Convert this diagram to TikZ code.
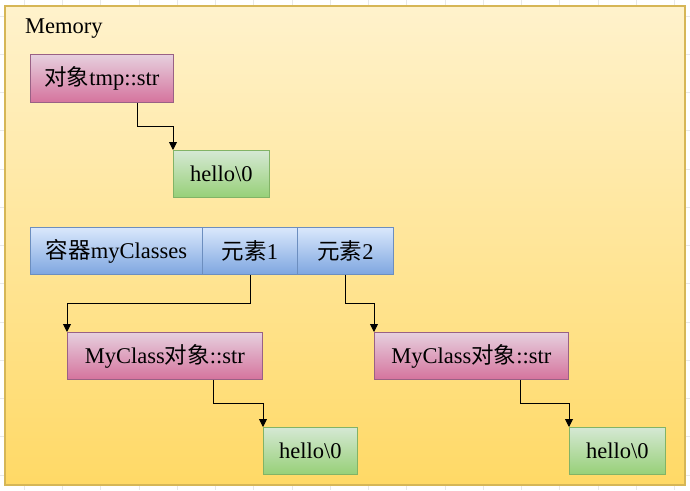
\documentclass[tikz,border=0pt]{standalone}
\usepackage{fontspec}
\setmainfont{Liberation Serif}
\newfontfamily\cjk{Noto Sans CJK SC}
\usetikzlibrary{arrows.meta,calc}
\definecolor{memtop}{HTML}{FFF2CC}
\definecolor{membot}{HTML}{FFD966}
\definecolor{memline}{HTML}{D6B656}
\definecolor{pinktop}{HTML}{E6D0DE}
\definecolor{pinkbot}{HTML}{D5739D}
\definecolor{pinkline}{HTML}{996185}
\definecolor{greentop}{HTML}{D5E8D4}
\definecolor{greenbot}{HTML}{97D077}
\definecolor{greenline}{HTML}{82B366}
\definecolor{bluetop}{HTML}{DAE8FC}
\definecolor{bluebot}{HTML}{7EA6E0}
\definecolor{blueline}{HTML}{6C8EBF}
\definecolor{gridc}{HTML}{E8E8E8}
\tikzset{
  box/.style={rectangle, anchor=north west, inner sep=0pt, line width=0.9pt,
    font=\fontsize{22.5}{26}\selectfont, text=black},
  pinkbox/.style={box, draw=pinkline, top color=pinktop, bottom color=pinkbot},
  greenbox/.style={box, draw=greenline, top color=greentop, bottom color=greenbot,
    minimum width=96pt, minimum height=47pt},
  bluebox/.style={box, draw=blueline, top color=bluetop, bottom color=bluebot,
    minimum height=47pt},
  arr/.style={draw=black, line width=0.9pt, -{Triangle[length=8pt,width=8pt]}}
}
\begin{document}
\begin{tikzpicture}[x=1pt,y=-1pt]
\useasboundingbox (0,0) rectangle (690,490);
\fill[white] (0,0) rectangle (690,490);
% faint grid
\foreach \i in {0,...,17} {
  \draw[gridc, line width=0.6pt] ({24.2+38.25*(\i-0)},0) -- ({24.2+38.25*(\i-0)},490);
}
\foreach \j in {0,...,12} {
  \draw[gridc, line width=0.6pt] (0,{16+38.25*\j}) -- (690,{16+38.25*\j});
}
% memory area
\shade[top color=memtop, bottom color=membot] (5,6) rectangle (685,485);
\draw[memline, line width=1.4pt] (5,6) rectangle (685,485);
\node[anchor=base west, inner sep=0pt, font=\fontsize{22.5}{26}\selectfont] (mem) at (25,33) {Memory};

% nodes
\node[pinkbox, minimum width=143pt, minimum height=48pt] (tmp) at (30,54) {{\cjk 对象}tmp::str};
\node[greenbox] (h1) at (173,150) {hello\textbackslash 0};

\node[bluebox, minimum width=172pt] (cont) at (30,227) {{\cjk 容器}myClasses};
\node[bluebox, minimum width=95pt] (e1) at (202,227) {{\cjk 元素}1};
\node[bluebox, minimum width=96pt] (e2) at (297,227) {{\cjk 元素}2};

\node[pinkbox, minimum width=195pt, minimum height=47pt] (mc1) at (67,332) {MyClass{\cjk 对象}::str};
\node[pinkbox, minimum width=194pt, minimum height=47pt] (mc2) at (374,332) {MyClass{\cjk 对象}::str};

\node[greenbox, minimum width=94pt] (h2) at (263,427) {hello\textbackslash 0};
\node[greenbox] (h3) at (569,427) {hello\textbackslash 0};

% connectors
\coordinate (s1) at ($(tmp.south west)!0.75!(tmp.south east)$);
\draw[arr] (s1) |- ($(s1)!0.5!(h1.north west)$) -| (h1.north west);
\draw[arr] (e1.south) |- ($(e1.south)!0.5!(mc1.north west)$) -| (mc1.north west);
\draw[arr] (e2.south) |- ($(e2.south)!0.5!(mc2.north west)$) -| (mc2.north west);
\coordinate (s2) at ($(mc1.south west)!0.75!(mc1.south east)$);
\draw[arr] (s2) |- ($(s2)!0.5!(h2.north west)$) -| (h2.north west);
\coordinate (s3) at ($(mc2.south west)!0.75!(mc2.south east)$);
\draw[arr] (s3) |- ($(s3)!0.5!(h3.north west)$) -| (h3.north west);
\end{tikzpicture}
\end{document}
